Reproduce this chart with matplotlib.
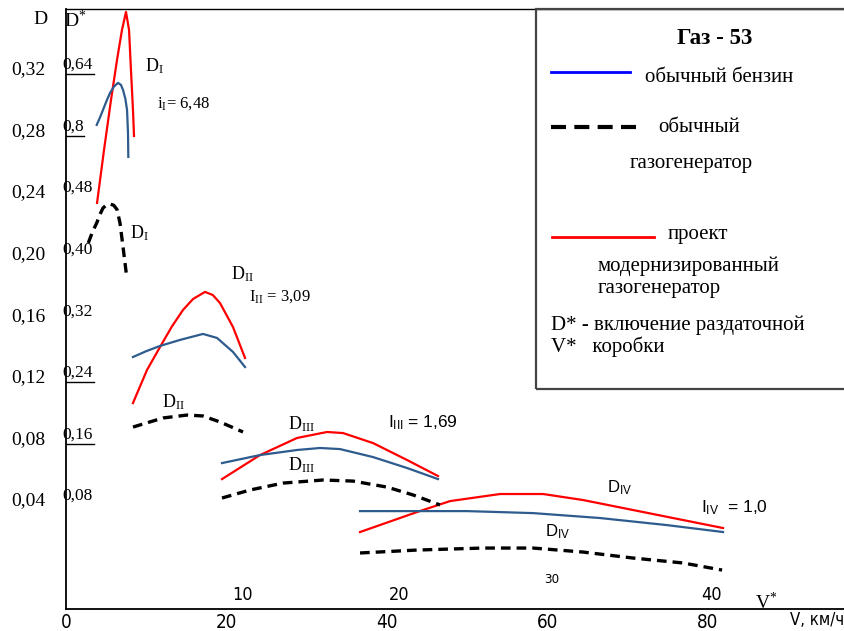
import matplotlib
matplotlib.use("Agg")
import matplotlib.pyplot as plt
from matplotlib.lines import Line2D
from matplotlib.patches import Rectangle

W, H = 844, 631

# --- data: speed V (km/h) and dynamic factor D ---
v_red1 = [3.87, 4.74, 5.61, 6.36, 6.98, 7.48, 7.86, 8.10, 8.35, 8.48]
d_red1 = [0.2323, 0.2667, 0.2992, 0.3252, 0.3447, 0.3564, 0.3447, 0.3187, 0.2927, 0.2758]
v_blue1 = [3.83, 4.25, 4.61, 5.05, 5.49, 6.0, 6.48, 6.85, 7.11, 7.40, 7.61, 7.73, 7.77]
d_blue1 = [0.2830, 0.2880, 0.2927, 0.2985, 0.3038, 0.3080, 0.3103, 0.3090, 0.3057, 0.3000,
           0.2927, 0.2778, 0.2622]
v_blk1 = [2.78, 3.30, 3.83, 4.25, 4.61, 5.05, 5.49, 5.95, 6.36, 6.73, 7.11, 7.57]
d_blk1 = [0.2063, 0.2135, 0.2193, 0.2250, 0.2290, 0.2310, 0.2316, 0.2308, 0.2280, 0.2193,
          0.2037, 0.1842]

v_red2 = [8.35, 10.10, 11.72, 13.2, 14.59, 15.84, 17.33, 18.3, 19.20, 20.82, 22.32]
d_red2 = [0.1023, 0.1238, 0.1387, 0.1520, 0.1628, 0.1699, 0.1745, 0.1725, 0.1673, 0.1517,
          0.1316]
v_blue2 = [8.35, 10.0, 11.72, 14.21, 17.08, 18.83, 20.82, 22.32]
d_blue2 = [0.1322, 0.1360, 0.1394, 0.1433, 0.1472, 0.1446, 0.1355, 0.1257]
v_blk2 = [8.35, 12.09, 15.09, 17.08, 19.20, 22.07]
d_blk2 = [0.0867, 0.0926, 0.0945, 0.0939, 0.0900, 0.0835]

v_red3 = [19.45, 24.19, 28.80, 32.54, 34.54, 38.28, 42.52, 46.38]
d_red3 = [0.0529, 0.0685, 0.0796, 0.0835, 0.0828, 0.0763, 0.0653, 0.0549]
v_blue3 = [19.45, 24.19, 28.80, 31.67, 34.16, 38.28, 42.52, 46.38]
d_blue3 = [0.0633, 0.0685, 0.0718, 0.0731, 0.0724, 0.0672, 0.0601, 0.0529]
v_blk3 = [19.45, 22.94, 27.06, 32.04, 35.79, 40.02, 43.27, 46.63]
d_blk3 = [0.0406, 0.0458, 0.0503, 0.0523, 0.0516, 0.0477, 0.0426, 0.0361]

v_red4 = [36.66, 43.77, 47.88, 54.11, 59.48, 64.46, 70.70, 76.93, 81.92]
d_red4 = [0.0185, 0.0315, 0.0386, 0.0432, 0.0432, 0.0393, 0.0328, 0.0263, 0.0211]
v_blue4 = [36.66, 50.0, 58.23, 66.58, 74.94, 81.92]
d_blue4 = [0.0321, 0.0321, 0.0308, 0.0276, 0.0230, 0.0185]
v_blk4 = [36.66, 43.77, 52.0, 58.23, 64.46, 70.70, 76.93, 81.80]
d_blk4 = [0.0049, 0.0068, 0.0081, 0.0081, 0.0055, 0.0016, -0.0016, -0.0062]

d_ticks = [0.04, 0.08, 0.12, 0.16, 0.20, 0.24, 0.28, 0.32]
d_labels = ["0,04", "0,08", "0,12", "0,16", "0,20", "0,24", "0,28", "0,32"]
dstar_vals = [0.64, 0.56, 0.48, 0.40, 0.32, 0.24, 0.16, 0.08]
dstar_labels = ["0,64", "0,8", "0,48", "0,40", "0,32", "0,24", "0,16", "0,08"]
dstar_underlined = ["0,64", "0,8", "0,24", "0,16"]
v_ticks = [0, 20, 40, 60, 80]
vstar_labels = ["10", "20", "30", "40"]
vstar_at_v = [22.0, 41.5, 60.6, 80.5]

SERIF = ["Liberation Serif", "DejaVu Serif"]
SANS = ["Liberation Sans", "DejaVu Sans"]
NARROW = dict(family="DejaVu Sans", stretch="condensed")

plt.rcParams["mathtext.fontset"] = "custom"
plt.rcParams["mathtext.rm"] = "Liberation Serif"
plt.rcParams["mathtext.it"] = "Liberation Serif:italic"
plt.rcParams["mathtext.sf"] = "Liberation Sans"

fig = plt.figure(figsize=(W / 100, H / 100), dpi=100)
ax = fig.add_axes([66 / W, 22 / H, 778 / W, 600 / H])
ax.set_xlim(0, 97.0)
ax.set_ylim(-0.0315, 0.3583)

RED = "#ff0000"
BLUE = "#2e5b8e"
blk = dict(color="black", lw=2.4, dashes=(2.9, 1.8))

for v, d in [(v_red1, d_red1), (v_red2, d_red2), (v_red3, d_red3), (v_red4, d_red4)]:
    ax.plot(v, d, color=RED, lw=1.6)
for v, d in [(v_blue1, d_blue1), (v_blue2, d_blue2), (v_blue3, d_blue3), (v_blue4, d_blue4)]:
    ax.plot(v, d, color=BLUE, lw=1.6)
for v, d in [(v_blk1, d_blk1), (v_blk2, d_blk2), (v_blk3, d_blk3), (v_blk4, d_blk4)]:
    ax.plot(v, d, **blk)

for s in ["left", "bottom"]:
    ax.spines[s].set_linewidth(1.3)
ax.spines["top"].set_linewidth(1.0)
ax.spines["right"].set_visible(False)

ax.set_yticks(d_ticks)
ax.set_yticklabels(d_labels, family=SERIF, fontsize=14)
ax.set_xticks(v_ticks)
ax.set_xticklabels([str(t) for t in v_ticks], fontsize=13.5, **NARROW)
ax.tick_params(axis="y", length=0, pad=15)
ax.tick_params(axis="x", length=0, pad=3)

# secondary D* scale written inside the axis (D* = 2D)
for val, lab in zip(dstar_vals, dstar_labels):
    ax.text(-0.5, val / 2 + 0.002, lab, family=SERIF, fontsize=12.5,
            ha="left", va="center")
    if lab in dstar_underlined:
        w = 3.5 if len(lab) == 4 else 2.3
        ax.plot([0, w], [val / 2 - 0.004] * 2, color="black", lw=1.0)

for x, lab in zip(vstar_at_v, vstar_labels):
    if lab == "30":
        ax.text(x, -0.0125, lab, fontsize=9.5, ha="center", va="center", **NARROW)
    else:
        ax.text(x, -0.0225, lab, fontsize=13, ha="center", va="center", **NARROW)


def ptxt(x, y, s, **kw):
    kw.setdefault("ha", "left")
    kw.setdefault("va", "center")
    fig.text(x / W, 1 - y / H, s, **kw)


ptxt(33, 20, "D", family=SERIF, fontsize=14)
ptxt(64, 20, r"D$^{*}$", family=SERIF, fontsize=14)
ptxt(790, 620, "V, км/ч", fontsize=12, **NARROW)
ptxt(755, 603, r"V$^{*}$", family=SERIF, fontsize=14)

# curve labels
ptxt(145, 66, r"D$_{\mathrm{I}}$", family=SERIF, fontsize=13)
ptxt(157, 104, r"i$_{\mathrm{I}}$= 6,48", family=SERIF, fontsize=12)
ptxt(130, 233, r"D$_{\mathrm{I}}$", family=SERIF, fontsize=13)
ptxt(231, 274, r"D$_{\mathrm{II}}$", family=SERIF, fontsize=13)
ptxt(249, 297, r"I$_{\mathrm{II}}$ = 3,09", family=SERIF, fontsize=12)
ptxt(162, 402, r"D$_{\mathrm{II}}$", family=SERIF, fontsize=13)
ptxt(288, 424, r"D$_{\mathrm{III}}$", family=SERIF, fontsize=13)
ptxt(288, 465, r"D$_{\mathrm{III}}$", family=SERIF, fontsize=13)
ptxt(388, 423, r"I$_{\mathsf{III}}$ = 1,69", family=SANS, fontsize=12.5)
ptxt(607, 488, r"D$_{\mathsf{IV}}$", family=SANS, fontsize=12)
ptxt(545, 532, r"D$_{\mathsf{IV}}$", family=SANS, fontsize=12)
ptxt(701, 508, r"I$_{\mathsf{IV}}$  = 1,0", family=SANS, fontsize=12.5)

# legend panel (right edge runs past the picture)
fig.patches.append(Rectangle((536 / W, 1 - 389 / H), (W + 20 - 536) / W, 380 / H,
                             transform=fig.transFigure, fill=False,
                             edgecolor="#444444", lw=1.6))
fig.lines.append(Line2D([551 / W, 630 / W], [1 - 72 / H] * 2, transform=fig.transFigure,
                        color="#0000ff", lw=2))
fig.lines.append(Line2D([551 / W, 640 / W], [1 - 127 / H] * 2, transform=fig.transFigure,
                        color="black", lw=3, dashes=(3.6, 2.0)))
fig.lines.append(Line2D([552 / W, 654 / W], [1 - 237 / H] * 2, transform=fig.transFigure,
                        color=RED, lw=2))
ptxt(715, 38, "Газ - 53", family=SERIF, fontsize=16.5, weight="bold", ha="center")
ptxt(645, 77, "обычный бензин", family=SERIF, fontsize=15)
ptxt(658, 128, "обычный", family=SERIF, fontsize=15)
ptxt(630, 164, "газогенератор", family=SERIF, fontsize=15)
ptxt(668, 234, "проект", family=SERIF, fontsize=15)
ptxt(598, 266, "модернизированный", family=SERIF, fontsize=15)
ptxt(598, 289, "газогенератор", family=SERIF, fontsize=15)
ptxt(551, 325, "D* - включение раздаточной", family=SERIF, fontsize=15)
ptxt(551, 347, "V*   коробки", family=SERIF, fontsize=15)

fig.savefig("out.png", dpi=100)
